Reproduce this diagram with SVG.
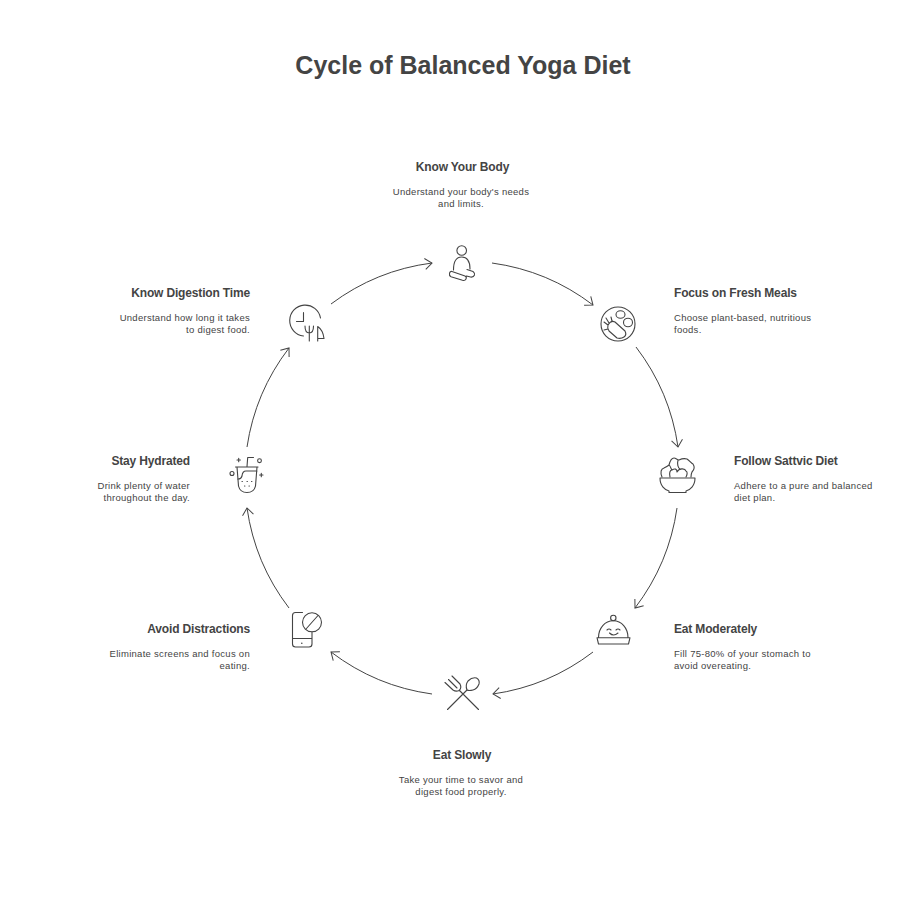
<svg xmlns="http://www.w3.org/2000/svg" width="924" height="900" viewBox="0 0 924 900">
<style>
text{font-family:"Liberation Sans",Arial,sans-serif;fill:#444}
.t{font-size:25px;font-weight:700;text-anchor:middle}
.h{font-size:12px;font-weight:700;letter-spacing:-.16px}
.d{font-size:9.500px;letter-spacing:.28px}
.m{text-anchor:middle}.e{text-anchor:end}
.i{fill:none;stroke:#444;stroke-width:1.100;stroke-linecap:round;stroke-linejoin:round}
.c{fill:none;stroke:#444;stroke-width:1;marker-end:url(#a)}
</style>
<defs><marker id="a" markerUnits="userSpaceOnUse" markerWidth="14" markerHeight="14" refX="10" refY="7" orient="auto"><path d="M3 1.500L10 7L3 12.500" fill="none" stroke="#444" stroke-width="1"/></marker></defs>
<rect width="924" height="900" fill="#fff"/>
<text class="t" x="463" y="74">Cycle of Balanced Yoga Diet</text>
<g id="connectors">
<path class="c" d="M492 263A215 215 0 0 1 593 305"/>
<path class="c" d="M636 347A215 215 0 0 1 678 447"/>
<path class="c" d="M677 508A215 215 0 0 1 635 608"/>
<path class="c" d="M593 652A215 215 0 0 1 493 694"/>
<path class="c" d="M432 694A215 215 0 0 1 331 652"/>
<path class="c" d="M289 608A215 215 0 0 1 247 508"/>
<path class="c" d="M247 447A215 215 0 0 1 289 348"/>
<path class="c" d="M331 304A215 215 0 0 1 432 263"/>
</g>
<g id="n1">
<text class="h m" x="462.500" y="171">Know Your Body</text>
<text class="d m" x="461" y="195">Understand your body's needs</text><text class="d m" x="461" y="207">and limits.</text>
<circle class="i" cx="461.700" cy="250.500" r="4.800"/>
<path class="i" d="M453.500 270C453.500 262 456 257 461.700 257C467.500 257 470 262 470 269"/>
<path class="i" d="M452 271.500L465 276Q467 277 466 279Q465 281 462.500 280.300L451 276.800Q449 275.800 449.500 273.500Q450 271 452 271.500ZM467 269.500L473 271.500Q475 273 474.500 275Q473.500 277.500 470.500 277L466.500 276"/>
</g>
<g id="n2">
<text class="h" x="674" y="297">Focus on Fresh Meals</text>
<text class="d" x="674" y="321">Choose plant-based, nutritious</text><text class="d" x="674" y="333">foods.</text>
<circle class="i" cx="618" cy="324" r="17"/>
<path class="i" d="M608 325Q611 320 615 322L625 331Q627 335 624 337Q621 339 617 338L609 331Q607 328 608 325ZM608 325L604 322M609 323L606 318M612 321L611 317M608 329L604 330"/>
<ellipse class="i" cx="620.500" cy="314.500" rx="4.500" ry="3.800"/><ellipse class="i" cx="628" cy="322.500" rx="4.500" ry="4.300"/>
</g>
<g id="n3">
<text class="h" x="734" y="465">Follow Sattvic Diet</text>
<text class="d" x="734" y="489">Adhere to a pure and balanced</text><text class="d" x="734" y="501">diet plan.</text>
<path class="i" d="M660 478H695C695 486 690 490 686 491V492.500H669V491C665 490 660 486 660 478Z"/>
<path class="i" d="M662 477C660 472 661 469 664 468C666 467 668 466 669 465C670 461 672 458 674 458C676 458 677 460 679 460C681 459 684 458 687 459C690 461 691 463 693 464C695 467 694 470 692 472C691 474 691 476 691 477M670 477C669 473 670 470 672 470C675 468 677 469 677 472C679 468 685 468 686 471C688 472 687 475 686 477M672 470C670 467 670 465 669 465M678 460C677 464 678 468 680 469"/>
</g>
<g id="n4">
<text class="h" x="674" y="633">Eat Moderately</text>
<text class="d" x="674" y="657">Fill 75-80% of your stomach to</text><text class="d" x="674" y="669">avoid overeating.</text>
<circle class="i" cx="613.300" cy="618" r="2.700"/>
<path class="i" d="M598.500 637.500C598.500 628 605 620.700 613.300 620.700C621.500 620.700 628 628 628 637.500M597 637.700H630L628.500 644H598.500ZM607 630Q609 628 611 630M616 630Q618 628 620 630M609.500 633Q613.500 637 618 633"/>
</g>
<g id="n5">
<text class="h m" x="462" y="759">Eat Slowly</text>
<text class="d m" x="461" y="783">Take your time to savor and</text><text class="d m" x="461" y="795">digest food properly.</text>
<path class="i" d="M447.500 709.500L467 690M478.500 709.500L459.500 690.500M452 676L460 684Q462 688 459 690.500Q456 692 453 690L445 682.500M448.500 679.500L457 688"/>
<path class="i" d="M467 690Q465 685 468 681Q472 677 476.500 678Q480 680 479 684Q477 689 473 690Q469 691 467 690Z"/>
</g>
<g id="n6">
<text class="h e" x="250" y="633">Avoid Distractions</text>
<text class="d e" x="250" y="657">Eliminate screens and focus on</text><text class="d e" x="250" y="669">eating.</text>
<circle class="i" cx="312" cy="622.300" r="9.500"/><path class="i" d="M306 629L318 615.500"/>
<path class="i" d="M302.500 612.500H295.500Q292.500 612.500 292.500 615.500V644Q292.500 647 295.500 647H309Q312 647 312 644V632M292.500 638.500H312"/>
<circle cx="301.800" cy="643.300" r="0.800" fill="#444"/>
</g>
<g id="n7">
<text class="h e" x="190" y="465">Stay Hydrated</text>
<text class="d e" x="190" y="489">Drink plenty of water</text><text class="d e" x="190" y="501">throughout the day.</text>
<path class="i" d="M235.500 467H258M237 467L238.500 486Q240 492.500 247 492.500Q254 492.500 255.500 486L257 467M247 466.500L247.700 457.500H253.500M237.500 479Q241 479.500 242 476Q242.500 471 246 471H257"/>
<path class="i" d="M238.700 458.300V461.700M237 460H240.400M261.300 473.300V476.700M259.600 475H263"/>
<circle class="i" cx="232" cy="473.500" r="2"/><circle class="i" cx="259.500" cy="460.700" r="1.900"/>
<path class="i" d="M242 481.500h.4M247 481.500h.4M251.500 481.500h.4M244.500 486h.4M249 486h.4"/>
</g>
<g id="n8">
<text class="h e" x="250" y="297">Know Digestion Time</text>
<text class="d e" x="250" y="321">Understand how long it takes</text><text class="d e" x="250" y="333">to digest food.</text>
<path class="i" d="M320.500 318A15.500 15.500 0 1 0 303.500 336M303.500 312.500V321.500H296.500"/>
<path class="i" d="M305 326Q305 333 309.300 333Q313.500 333 313.500 326M309.300 326V341M317.700 341V326.500Q323 330 324 338.500H317.700"/>
</g>
</svg>
